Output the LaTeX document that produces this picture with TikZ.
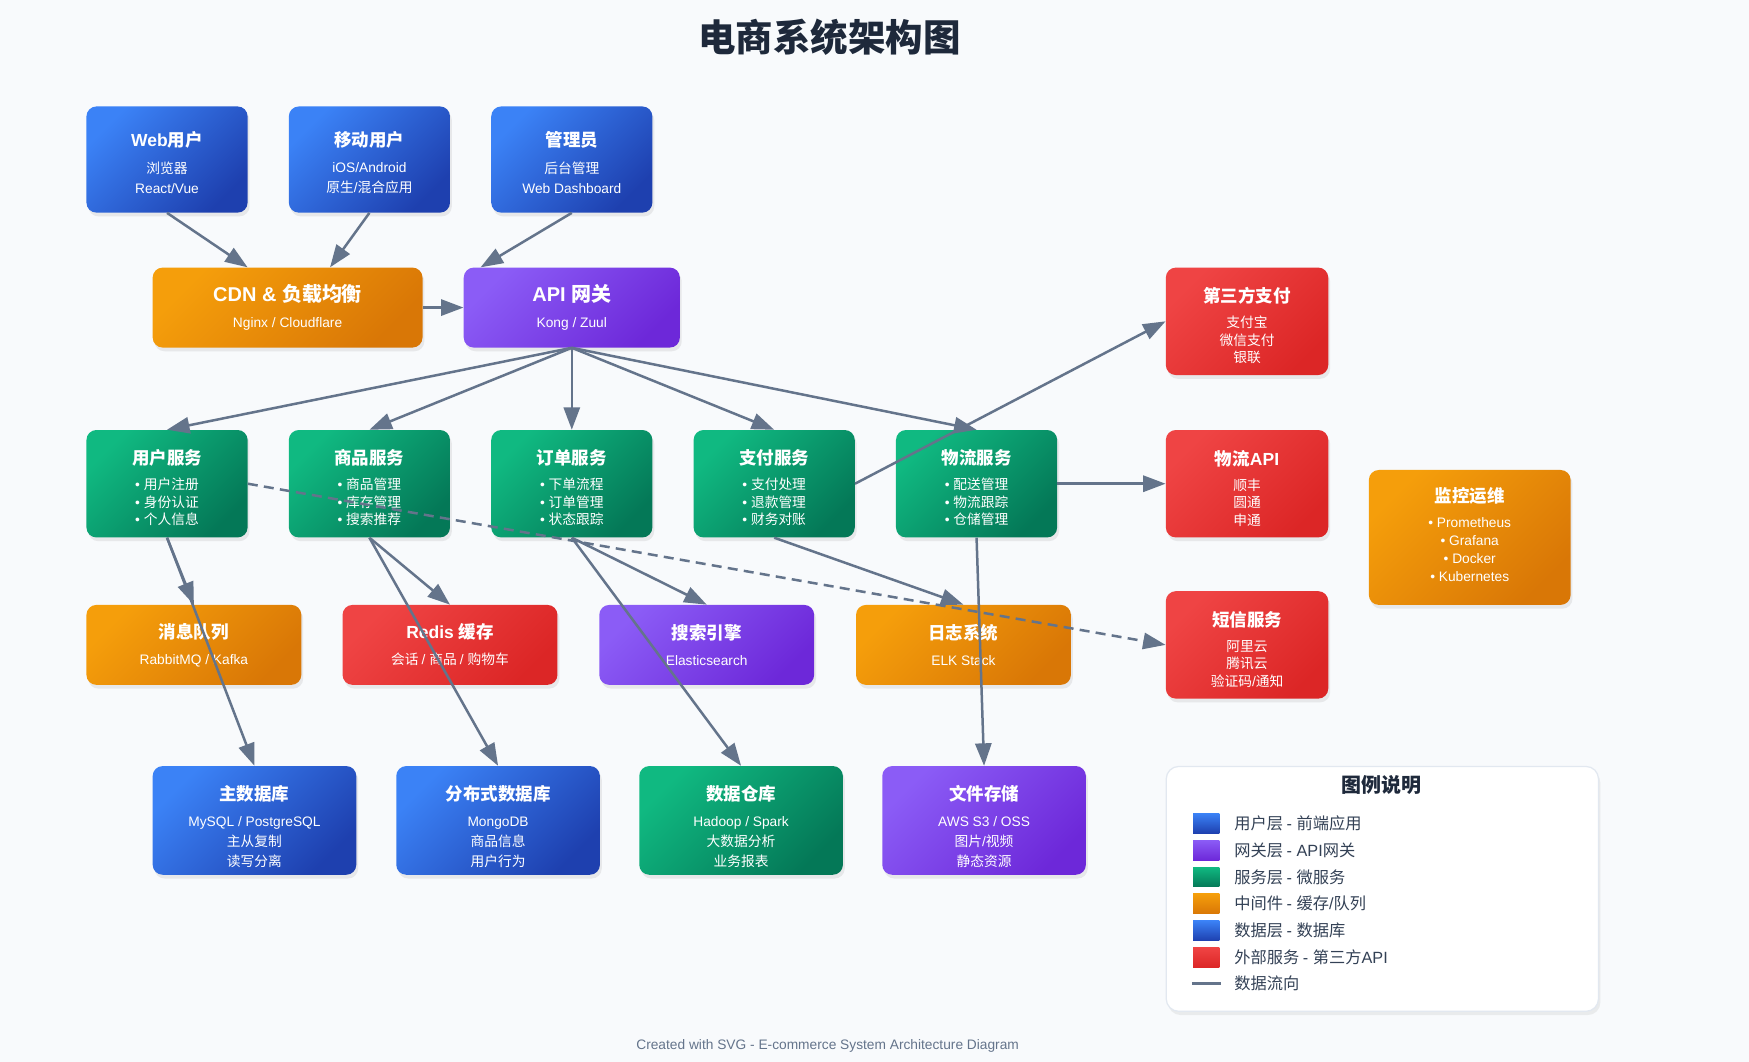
\documentclass[tikz,border=0pt]{standalone}
\usepackage{fontspec}
\setmainfont{Liberation Sans}
\newfontfamily\cjkfam{Noto Sans CJK SC}
% Han characters switch to the CJK family, everything else stays in Liberation Sans
\newXeTeXintercharclass\hanclass
\newcount\hancode
\hancode="4E00
\loop
  \XeTeXcharclass\hancode=\hanclass
  \advance\hancode by 1
\ifnum\hancode<"A000 \repeat
\XeTeXinterchartoks 0 \hanclass = {\cjkfam}
\XeTeXinterchartoks 4095 \hanclass = {\cjkfam}
\XeTeXinterchartoks \hanclass 0 = {\rmfamily}
\XeTeXinterchartoks 4095 0 = {\rmfamily}
\XeTeXinterchartokenstate=1

\usetikzlibrary{arrows.meta,shadows}
\definecolor{ink}{HTML}{1E293B}
\definecolor{flowgray}{HTML}{64748B}
\definecolor{paper}{HTML}{F8FAFC}
\definecolor{blueA}{HTML}{3B82F6}
\definecolor{blueB}{HTML}{1E40AF}
\definecolor{purpleA}{HTML}{8B5CF6}
\definecolor{purpleB}{HTML}{6D28D9}
\definecolor{greenA}{HTML}{10B981}
\definecolor{greenB}{HTML}{047857}
\definecolor{orangeA}{HTML}{F59E0B}
\definecolor{orangeB}{HTML}{D97706}
\definecolor{redA}{HTML}{EF4444}
\definecolor{redB}{HTML}{DC2626}
\definecolor{legendtext}{HTML}{334155}
\definecolor{legendedge}{HTML}{E2E8F0}
% optional argument: strut height of the title line (pushes the text block down)
\newcommand\ttl[2][0pt]{{\bfseries\fontsize{14}{14}\selectfont\rule{0pt}{#1}#2}}
\newcommand\bigttl[1]{{\bfseries\fontsize{16}{16}\selectfont #1}}

\begin{document}
\begin{tikzpicture}[x=1pt,y=-1pt,>={Triangle[length=18pt,width=13pt]},
  every node/.style={text=white},
  card/.style={anchor=north west,rounded corners=8pt,align=center,inner sep=0pt,font=\fontsize{11}{14}\selectfont,drop shadow={opacity=.14,shadow xshift=1.5pt,shadow yshift=-3pt}},
  bluebox/.style={card,top color=blueA,bottom color=blueB,shading angle=45},
  purplebox/.style={card,top color=purpleA,bottom color=purpleB,shading angle=45},
  greenbox/.style={card,top color=greenA,bottom color=greenB,shading angle=45},
  orangebox/.style={card,top color=orangeA,bottom color=orangeB,shading angle=45},
  redbox/.style={card,top color=redA,bottom color=redB,shading angle=45},
  small/.style={minimum width=129,minimum height=86},
  wide/.style={minimum width=172,minimum height=64},
  store/.style={minimum width=163,minimum height=87,font=\fontsize{11}{16}\selectfont},
  swatch/.style={minimum width=21,minimum height=16,inner sep=0pt,shading angle=45},
  legtext/.style={anchor=west,text=legendtext,font=\fontsize{13}{15}\selectfont},
  flow/.style={->,flowgray,line width=2pt}]
\path[use as bounding box,fill=paper] (0,0) rectangle (1400,850);

\node[text=ink,font=\bfseries\fontsize{30}{32}\selectfont] (title) at (664,30) {电商系统架构图};

% clients
\node[bluebox,small,minimum height=85,font=\fontsize{11}{16}\selectfont] (web) at (69,85) {\ttl[17pt]{Web用户}\\[5pt]浏览器\\React/Vue};
\node[bluebox,small,minimum height=85,font=\fontsize{11}{16}\selectfont] (mobile) at (231,85) {\ttl[17pt]{移动用户}\\[5pt]iOS/Android\\原生/混合应用};
\node[bluebox,small,minimum height=85,font=\fontsize{11}{16}\selectfont] (admin) at (393,85) {\ttl[17pt]{管理员}\\[5pt]后台管理\\Web Dashboard};

% access layer
\node[orangebox,minimum width=216,minimum height=64] (cdn) at (122,214) {\bigttl{CDN \& 负载均衡}\\[6.5pt]Nginx / Cloudflare};
\node[purplebox,minimum width=173,minimum height=64] (gw) at (371,214) {\bigttl{API 网关}\\[6.5pt]Kong / Zuul};

% services
\node[greenbox,small] (usersvc) at (69,344) {\ttl[18.5pt]{用户服务}\\[6pt]• 用户注册\\• 身份认证\\• 个人信息};
\node[greenbox,small] (goodssvc) at (231,344) {\ttl[18.5pt]{商品服务}\\[6pt]• 商品管理\\• 库存管理\\• 搜索推荐};
\node[greenbox,small] (ordersvc) at (393,344) {\ttl[18.5pt]{订单服务}\\[6pt]• 下单流程\\• 订单管理\\• 状态跟踪};
\node[greenbox,small] (paysvc) at (555,344) {\ttl[18.5pt]{支付服务}\\[6pt]• 支付处理\\• 退款管理\\• 财务对账};
\node[greenbox,small] (shipsvc) at (717,344) {\ttl[18.5pt]{物流服务}\\[6pt]• 配送管理\\• 物流跟踪\\• 仓储管理};

% external services
\node[redbox,small,minimum width=130] (thirdpay) at (933,214) {\ttl[19pt]{第三方支付}\\[6pt]支付宝\\微信支付\\银联};
\node[redbox,small,minimum width=130] (shipapi) at (933,344) {\ttl[19pt]{物流API}\\[6pt]顺丰\\圆通\\申通};
\node[redbox,small,minimum width=130] (sms) at (933,473) {\ttl[19pt]{短信服务}\\[6pt]阿里云\\腾讯云\\验证码/通知};
\node[orangebox,minimum width=161.5,minimum height=108,font=\fontsize{11}{14.3}\selectfont] (monitor) at (1095.5,376) {\ttl{监控运维}\\[5.5pt]• Prometheus\\• Grafana\\• Docker\\• Kubernetes\rule[-5pt]{0pt}{5pt}};

% middleware
\node[orangebox,wide] (mq) at (69,484) {\ttl{消息队列}\\[7pt]RabbitMQ / Kafka};
\node[redbox,wide] (redis) at (274,484) {\ttl{Redis 缓存}\\[7pt]会话 / 商品 / 购物车};
\node[purplebox,wide] (search) at (479.5,484) {\ttl{搜索引擎}\\[7pt]Elasticsearch};
\node[orangebox,wide] (logsys) at (685,484) {\ttl{日志系统}\\[7pt]ELK Stack};

% storage
\node[bluebox,store] (maindb) at (122,613) {\ttl[22pt]{主数据库}\\[5pt]MySQL / PostgreSQL\\主从复制\\读写分离};
\node[bluebox,store] (nosql) at (317,613) {\ttl[22pt]{分布式数据库}\\[5pt]MongoDB\\商品信息\\用户行为};
\node[greenbox,store] (warehouse) at (511.5,613) {\ttl[22pt]{数据仓库}\\[5pt]Hadoop / Spark\\大数据分析\\业务报表};
\node[purplebox,store] (files) at (706,613) {\ttl[22pt]{文件存储}\\[5pt]AWS S3 / OSS\\图片/视频\\静态资源};

% connectors
\draw[flow] (web.south) -- ([xshift=-32pt]cdn.north);
\draw[flow] (mobile.south) -- ([xshift=34pt]cdn.north);
\draw[flow] (admin.south) -- ([xshift=-73pt]gw.north);
\draw[flow] (cdn) -- (gw);
\draw[flow] (gw.south) -- (usersvc.north);
\draw[flow] (gw.south) -- (goodssvc.north);
\draw[flow] (gw.south) -- (ordersvc.north);
\draw[flow] (gw.south) -- (paysvc.north);
\draw[flow] (gw.south) -- (shipsvc.north);
\draw[flow] (paysvc.east) -- (thirdpay.west);
\draw[flow] (shipsvc.east) -- (shipapi.west);
\draw[flow,dash pattern=on 8pt off 5pt] (usersvc.east) -- (sms.west);
\draw[flow] (usersvc.south) -- (mq.north);
\draw[flow] (usersvc.south) -- (maindb.north);
\draw[flow] (goodssvc.south) -- (redis.north);
\draw[flow] (goodssvc.south) -- (nosql.north);
\draw[flow] (ordersvc.south) -- (search.north);
\draw[flow] (ordersvc.south) -- (warehouse.north);
\draw[flow] (paysvc.south) -- (logsys.north);
\draw[flow] (shipsvc.south) -- (files.north);

% legend
\node[anchor=north west,minimum width=346,minimum height=196,rounded corners=10pt,fill=white,draw=legendedge,line width=1pt,drop shadow={opacity=.12,shadow xshift=1.5pt,shadow yshift=-3pt}] (legend) at (933,613) {};
\node[text=ink,font=\bfseries\fontsize{16}{18}\selectfont] (legtitle) at (1106,628.5) {图例说明};
\node[swatch,top color=blueA,bottom color=blueB] (sw1) at (965.5,659) {};
\node[legtext] (lg1) at (984.5,659) {用户层 - 前端应用};
\node[swatch,top color=purpleA,bottom color=purpleB] (sw2) at (965.5,680.5) {};
\node[legtext] (lg2) at (984.5,680.5) {网关层 - API网关};
\node[swatch,top color=greenA,bottom color=greenB] (sw3) at (965.5,702) {};
\node[legtext] (lg3) at (984.5,702) {服务层 - 微服务};
\node[swatch,top color=orangeA,bottom color=orangeB] (sw4) at (965.5,723.5) {};
\node[legtext] (lg4) at (984.5,723.5) {中间件 - 缓存/队列};
\node[swatch,top color=blueA,bottom color=blueB] (sw5) at (965.5,745) {};
\node[legtext] (lg5) at (984.5,745) {数据层 - 数据库};
\node[swatch,top color=redA,bottom color=redB] (sw6) at (965.5,766.5) {};
\node[legtext] (lg6) at (984.5,766.5) {外部服务 - 第三方API};
\coordinate (lineA) at (954,787);
\coordinate (lineB) at (977,787);
\draw[flowgray,line width=2.5pt] (lineA) -- (lineB);
\node[legtext] (lg7) at (984.5,787) {数据流向};

\node[text=flowgray,font=\fontsize{11}{13}\selectfont] (footer) at (662.5,837) {Created with SVG - E-commerce System Architecture Diagram};

\end{tikzpicture}
\end{document}
